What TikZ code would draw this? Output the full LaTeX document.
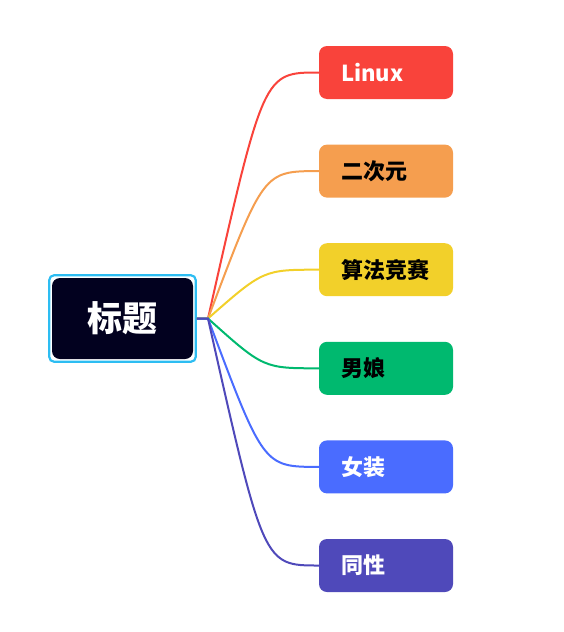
\documentclass[tikz,border=0pt]{standalone}
\usepackage{fontspec}
\newfontfamily\cjk{Noto Sans CJK SC}
\usetikzlibrary{positioning, fit, calc}
\definecolor{linuxred}{HTML}{F9433B}
\definecolor{acgorange}{HTML}{F59E4F}
\definecolor{algoyellow}{HTML}{F2D02A}
\definecolor{boygreen}{HTML}{00B96F}
\definecolor{dressblue}{HTML}{4A6CFF}
\definecolor{sameindigo}{HTML}{4F49BA}
\definecolor{titledark}{HTML}{02011F}
\definecolor{titlecyan}{HTML}{2DBDF2}

\begin{document}
\begin{tikzpicture}[
    x=1pt, y=-1pt,
    node distance=45.2pt,
    topic/.style={rectangle, rounded corners=8pt, minimum width=134pt, minimum height=53pt, inner xsep=22pt, text width=90pt, align=left, font=\cjk\bfseries\fontsize{22}{25}\selectfont},
    title/.style={rectangle, rounded corners=8pt, fill=titledark, text=white, minimum width=141pt, minimum height=81pt, font=\cjk\bfseries\fontsize{35}{40}\selectfont},
    frame/.style={rectangle, draw=titlecyan, line width=2.2pt, rounded corners=5pt, inner sep=2.6pt},
    link/.style={line width=2pt}
]
    \useasboundingbox (0,0) rectangle (563,632);

    % central topic with its outline
    \node[title] (main) at (122.5,318.5) {标题};
    \node[frame, fit=(main)] (mainframe) {};

    % branch topics
    \node[topic, fill=linuxred, text=white] (b1) at (386,72.5) {Linux};
    \node[topic, fill=acgorange, below=of b1] (b2) {二次元};
    \node[topic, fill=algoyellow, below=of b2] (b3) {算法竞赛};
    \node[topic, fill=boygreen, below=of b3] (b4) {男娘};
    \node[topic, fill=dressblue, text=white, below=of b4] (b5) {女装};
    \node[topic, fill=sameindigo, text=white, below=of b5] (b6) {同性};

    % connectors
    \coordinate (hub) at (208,318.5);
    \coordinate (bend) at (263.5,0);
    \draw[link, linuxred] (mainframe.east) -- (hub) .. controls (bend |- b1.west) and (bend |- b1.west) .. (b1.west);
    \draw[link, acgorange] (mainframe.east) -- (hub) .. controls (bend |- b2.west) and (bend |- b2.west) .. (b2.west);
    \draw[link, algoyellow] (mainframe.east) -- (hub) .. controls (bend |- b3.west) and (bend |- b3.west) .. (b3.west);
    \draw[link, boygreen] (mainframe.east) -- (hub) .. controls (bend |- b4.west) and (bend |- b4.west) .. (b4.west);
    \draw[link, dressblue] (mainframe.east) -- (hub) .. controls (bend |- b5.west) and (bend |- b5.west) .. (b5.west);
    \draw[link, sameindigo] (mainframe.east) -- (hub) .. controls (bend |- b6.west) and (bend |- b6.west) .. (b6.west);
\end{tikzpicture}
\end{document}
